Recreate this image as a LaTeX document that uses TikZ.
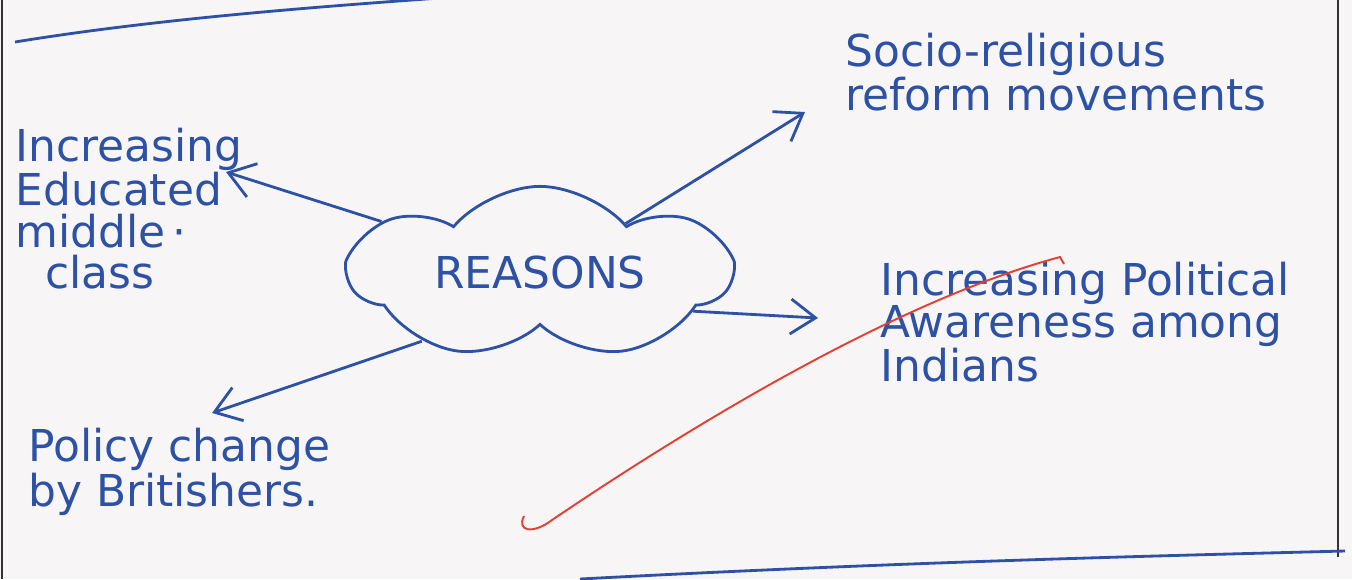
\documentclass[tikz,border=0pt]{standalone}
\usepackage{fontspec}
\setmainfont{DejaVu Sans}
\usetikzlibrary{positioning}
\usetikzlibrary{arrows.meta}
\usetikzlibrary{shapes.symbols}

\definecolor{ink}{RGB}{45,82,165}
\definecolor{redink}{RGB}{225,65,50}
\definecolor{paper}{RGB}{248,245,247}

\begin{document}
\begin{tikzpicture}[
        x=0.02cm, y=-0.02cm,
        >={Straight Barb[length=5mm,width=7mm]},
        inkline/.style={draw=ink, line width=1.6pt},
        note/.style={anchor=north west, inner sep=0pt, text=ink, align=left, font=\fontsize{25}{23.5}\selectfont},
        cloudnode/.style={cloud, cloud puffs=7, cloud puff arc=100, aspect=2.6, draw=ink, line width=1.6pt, minimum width=7.6cm, minimum height=2.9cm, text=ink, font=\fontsize{25}{23.5}\selectfont}
    ]

    % page
    \fill[paper] (0,0) rectangle (1352,579);
    \useasboundingbox (0,0) rectangle (1352,579);
    \draw[black!80, line width=1.5pt] (2,0) -- (2,579);
    \draw[black!80, line width=1.2pt] (1338,0) -- (1338,557);
    \draw[inkline] (15,42) .. controls (150,20) and (300,8) .. (440,-2);
    \draw[inkline] (580,579) .. controls (900,562) and (1150,556) .. (1345,551);

    % centre
    \node [cloudnode] (reasons) at (540,273) {REASONS};

    % the four reasons
    \node [note] (edu) at (15,128) {Increasing\\Educated\\middle\,·\\\hspace{0.6cm}class};
    \node [note] (socio) at (845,33) {Socio-religious\\reform movements};
    \node [note] (polit) at (880,262) {Increasing Political\\Awareness among\\Indians};
    \node [note] (policy) at (28,428) {Policy change\\by Britishers.};

    \coordinate (edutip) at (226,172);
    \coordinate (sociotip) at (805,112);
    \coordinate (polittip) at (818,318);
    \coordinate (policytip) at (212,413);

    \draw[inkline, ->] (reasons.162) -- (edutip);
    \draw[inkline, ->] (reasons.30) -- (sociotip);
    \draw[inkline, ->] (reasons.-14) -- (polittip);
    \draw[inkline, ->] (reasons.210) -- (policytip);

    % red tick
    \draw[redink, line width=1.1pt] (524,516) .. controls (516,532) and (534,534) .. (552,520) .. controls (700,420) and (900,300) .. (1060,257) -- (1064,264);

\end{tikzpicture}
\end{document}
